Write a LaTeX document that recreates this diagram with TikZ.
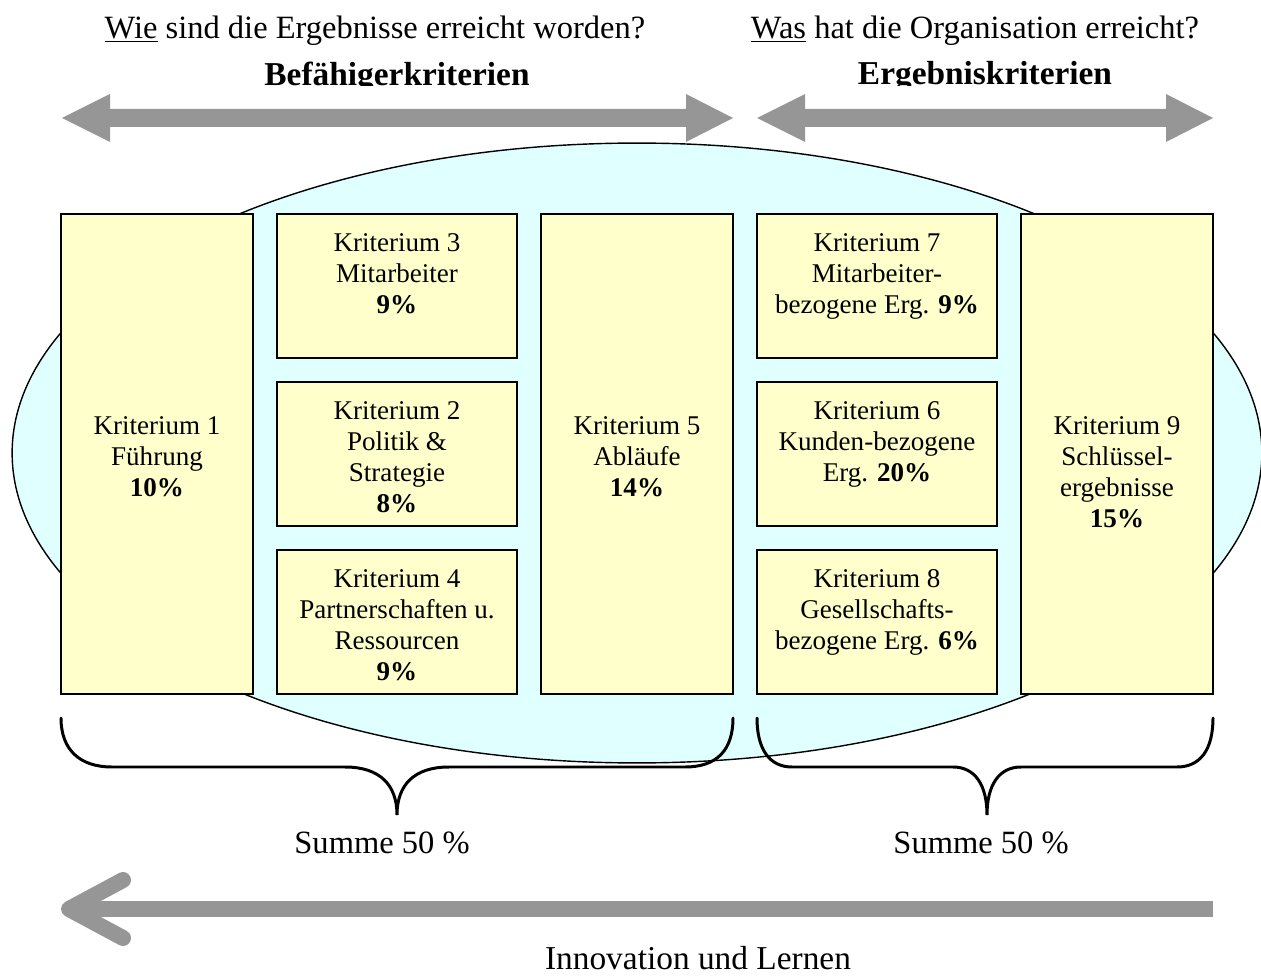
\documentclass[tikz,border=0pt]{standalone}
\usepackage{fontspec}
\setmainfont{Liberation Serif}
\definecolor{ovalfill}{HTML}{E0FFFF}
\definecolor{boxfill}{HTML}{FFFFCC}
\definecolor{arrowgray}{HTML}{969696}

\begin{document}
\begin{tikzpicture}[x=0.02cm, y=-0.02cm,
  tallbox/.style={draw, line width=0.9pt, fill=boxfill, minimum width=3.84cm, minimum height=9.6cm, inner sep=0pt},
  smallbox/.style={draw, line width=0.9pt, fill=boxfill, minimum width=4.8cm, minimum height=2.88cm, inner sep=0pt},
  crittext/.style={anchor=north, align=center, inner sep=0pt, font=\fontsize{15.4}{17.6}\selectfont},
  headtext/.style={inner sep=0pt, font=\fontsize{18.5}{22}\selectfont},
  bracepath/.style={line width=1.7pt, line cap=round},
  blockarrow/.style={fill=arrowgray}]
  \useasboundingbox (0,0) rectangle (1261,976);
  % questions and headings
  \node (qwie) at (375,31) [headtext] {\underline{Wie} sind die Ergebnisse erreicht worden?};
  \node (qwas) at (975,31) [headtext] {\underline{Was} hat die Organisation erreicht?};
  \begin{scope}
    \clip (0,0) rectangle (1261,86);
    \node (befaehiger) at (397,77) [headtext, font=\fontsize{19}{22}\selectfont\bfseries] {Befähigerkriterien};
    \node (ergebnis) at (985,77) [headtext, font=\fontsize{19}{22}\selectfont\bfseries] {Ergebniskriterien};
  \end{scope}
  % double arrows
  \fill[blockarrow] (62,118) -- (110,94) -- (110,109) -- (686,109) -- (686,94) -- (733,118)
    -- (686,142) -- (686,127) -- (110,127) -- (110,142) -- cycle;
  \fill[blockarrow] (757,118) -- (805,94) -- (805,109) -- (1166,109) -- (1166,94) -- (1213,118)
    -- (1166,142) -- (1166,127) -- (805,127) -- (805,142) -- cycle;
  % oval
  \draw[fill=ovalfill, line width=0.8pt] (637,453) ellipse [x radius=12.5cm, y radius=6.2cm];
  % criteria
  \node (k1) at (157, 454) [tallbox] {};
  \node (k3) at (397, 286) [smallbox] {};
  \node (k2) at (397, 454) [smallbox] {};
  \node (k4) at (397, 622) [smallbox] {};
  \node (k5) at (637, 454) [tallbox] {};
  \node (k7) at (877, 286) [smallbox] {};
  \node (k6) at (877, 454) [smallbox] {};
  \node (k8) at (877, 622) [smallbox] {};
  \node (k9) at (1117, 454) [tallbox] {};
  \node (k1text) at (157, 416) [crittext] {Kriterium 1\\Führung\\\textbf{10\%}};
  \node (k3text) at (397, 233) [crittext] {Kriterium 3\\Mitarbeiter\\\textbf{9\%}};
  \node (k2text) at (397, 401) [crittext] {Kriterium 2\\Politik \&\\Strategie\\\textbf{8\%}};
  \node (k4text) at (397, 569) [crittext] {Kriterium 4\\Partnerschaften u.\\Ressourcen\\\textbf{9\%}};
  \node (k5text) at (637, 416) [crittext] {Kriterium 5\\Abläufe\\\textbf{14\%}};
  \node (k7text) at (877, 233) [crittext] {Kriterium 7\\Mitarbeiter-\\bezogene Erg. \textbf{9\%}};
  \node (k6text) at (877, 401) [crittext] {Kriterium 6\\Kunden-bezogene\\Erg. \textbf{20\%}};
  \node (k8text) at (877, 569) [crittext] {Kriterium 8\\Gesellschafts-\\bezogene Erg. \textbf{6\%}};
  \node (k9text) at (1117, 416) [crittext] {Kriterium 9\\Schlüssel-\\ergebnisse\\\textbf{15\%}};
  % braces
  \draw[bracepath] (61,718) .. controls (61,750) and (80,767) .. (112,767) -- (345,767)
    .. controls (380,767) and (397,785) .. (397,815)
    .. controls (397,785) and (414,767) .. (449,767) -- (685,767)
    .. controls (717,767) and (733,750) .. (733,718);
  \draw[bracepath] (757,718) .. controls (757,750) and (770,767) .. (792,767) -- (953,767)
    .. controls (975,767) and (987,785) .. (987,815)
    .. controls (987,785) and (999,767) .. (1021,767) -- (1177,767)
    .. controls (1200,767) and (1213,750) .. (1213,718);
  \node (summe1) at (382,843) [headtext] {Summe 50 \%};
  \node (summe2) at (981,843) [headtext] {Summe 50 \%};
  % innovation arrow
  \coordinate (lernstart) at (1213,909);
  \coordinate (lerntip) at (69,909);
  \coordinate (lernup) at (123,880);
  \coordinate (lerndown) at (123,938);
  \draw[arrowgray, line width=0.32cm] (lernstart) -- (lerntip);
  \draw[arrowgray, line width=0.32cm, line cap=round, line join=round] (lernup) -- (lerntip) -- (lerndown);
  \node (innovation) at (698,958) [headtext, font=\fontsize{19}{22}\selectfont] {Innovation und Lernen};
\end{tikzpicture}
\end{document}
